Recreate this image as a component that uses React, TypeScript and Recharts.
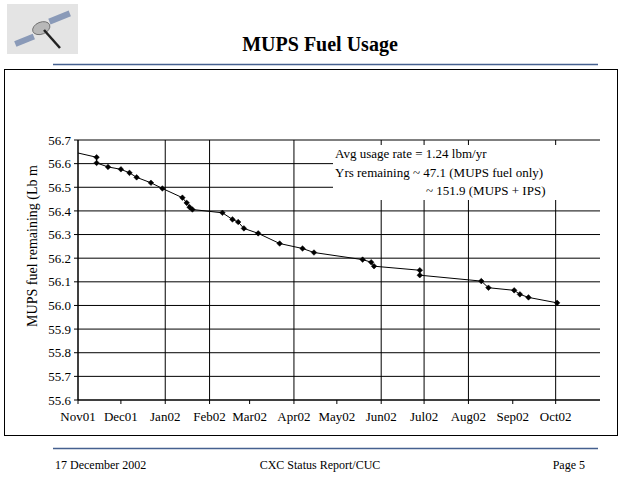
import React from 'react';
import { LineChart, Line, XAxis, YAxis, CartesianGrid } from 'recharts';

// days since 1 Nov 2001
const dayNumbers = [0, 13, 13, 21, 30, 36, 41, 51, 59, 73, 76, 78, 80, 101, 108, 112, 116, 126, 141, 157, 165, 199, 205, 207, 239, 239, 282, 287, 305, 309, 315, 335];
const fuelRemaining = [56.645, 56.627, 56.603, 56.586, 56.576, 56.561, 56.542, 56.519, 56.495, 56.456, 56.434, 56.416, 56.406, 56.392, 56.364, 56.353, 56.326, 56.305, 56.262, 56.241, 56.224, 56.194, 56.183, 56.166, 56.149, 56.128, 56.103, 56.075, 56.064, 56.047, 56.034, 56.011];

const monthStarts = [0, 30, 61, 92, 120, 151, 181, 212, 242, 273, 304, 334];
const monthLabels = ['Nov01', 'Dec01', 'Jan02', 'Feb02', 'Mar02', 'Apr02', 'May02', 'Jun02', 'Jul02', 'Aug02', 'Sep02', 'Oct02'];
const yTicks = [55.6, 55.7, 55.8, 55.9, 56.0, 56.1, 56.2, 56.3, 56.4, 56.5, 56.6, 56.7];

const noteLines = ['Avg usage rate = 1.24 lbm/yr', 'Yrs remaining ~ 47.1 (MUPS fuel only)', '~ 151.9 (MUPS + IPS)'];

const data = dayNumbers.map((d, i) => ({ day: d, fuel: fuelRemaining[i] }));

const FONT = '"Liberation Serif", "Times New Roman", serif';

const Diamond = (props: any) => {
  const { cx, cy, index } = props;
  if (index === 0 || cx == null || cy == null) return <g key={`d-${index}`} />;
  const s = 2.8;
  return (
    <polygon
      key={`d-${index}`}
      points={`${cx},${cy - s} ${cx + s},${cy} ${cx},${cy + s} ${cx - s},${cy}`}
      fill="#000"
      stroke="#000"
      strokeWidth={0.5}
    />
  );
};

const fmtMonth = (v: number) => {
  const i = monthStarts.indexOf(v);
  return i >= 0 ? monthLabels[i] : '';
};

export default function App() {
  return (
    <div style={{ position: 'fixed', left: 0, top: 0, width: 640, height: 480, background: '#fff', fontFamily: FONT }}>
      {/* frame of the chart object */}
      <div style={{ position: 'absolute', left: 4, top: 69, width: 612, height: 365, border: '1px solid #000' }} />
      <div style={{ position: 'absolute', left: 0, top: 0 }}>
        <LineChart width={640} height={480} data={data} margin={{ top: 140, right: 40, bottom: 0, left: 0 }}>
          <CartesianGrid stroke="#000" strokeWidth={1} verticalValues={monthStarts} horizontalValues={yTicks} />
          <XAxis
            dataKey="day"
            type="number"
            domain={[0, 365]}
            ticks={monthStarts}
            tickFormatter={fmtMonth}
            height={80}
            tickSize={4}
            tickMargin={8}
            stroke="#000"
            tick={{ fill: '#000', fontSize: 13, fontFamily: FONT }}
            allowDataOverflow
          />
          <YAxis
            type="number"
            domain={[55.6, 56.7]}
            ticks={yTicks}
            tickFormatter={(v: number) => v.toFixed(1)}
            width={78}
            tickSize={4}
            tickMargin={3}
            stroke="#000"
            tick={{ fill: '#000', fontSize: 13, fontFamily: FONT }}
            allowDataOverflow
          />
          <Line
            dataKey="fuel"
            type="linear"
            stroke="#000"
            strokeWidth={1}
            dot={Diamond}
            activeDot={false}
            isAnimationActive={false}
          />
        </LineChart>
      </div>
      <svg width={640} height={480} style={{ position: 'absolute', left: 0, top: 0, pointerEvents: 'none' }} fontFamily={FONT}>
        {/* logo */}
        <rect x={7} y={4} width={71} height={50} fill="#e4e4e4" />
        <g transform="rotate(-22 42 30)">
          <rect x={12} y={30} width={20} height={6} fill="#8a9ab8" />
          <rect x={52} y={22} width={22} height={6} fill="#8a9ab8" />
          <ellipse cx={42} cy={28} rx={9} ry={6} fill="#b8b8b8" stroke="#666" strokeWidth={0.8} />
        </g>
        <line x1={44} y1={30} x2={60} y2={48} stroke="#222" strokeWidth={2.5} />
        <text x={320} y={51} textAnchor="middle" fontSize={20} fontWeight="bold" fill="#000">MUPS Fuel Usage</text>
        <line x1={53} y1={64.5} x2={598} y2={64.5} stroke="#45608f" strokeWidth={1.5} />
        <line x1={53} y1={448.5} x2={598} y2={448.5} stroke="#45608f" strokeWidth={1.5} />
        <text x={37} y={246} textAnchor="middle" fontSize={14} fill="#000" transform="rotate(-90 37 246)">MUPS fuel remaining (Lb m</text>
        <rect x={333} y={145} width={268} height={55} fill="#fff" />
        <text x={335} y={158} fontSize={13} fill="#000">{noteLines[0]}</text>
        <text x={335} y={177} fontSize={13} fill="#000">{noteLines[1]}</text>
        <text x={426} y={195} fontSize={13} fill="#000">{noteLines[2]}</text>
        <text x={55} y={469} fontSize={12} fill="#000">17 December 2002</text>
        <text x={320} y={469} fontSize={12} textAnchor="middle" fill="#000">CXC Status Report/CUC</text>
        <text x={585} y={469} fontSize={12} textAnchor="end" fill="#000">Page 5</text>
      </svg>
    </div>
  );
}
